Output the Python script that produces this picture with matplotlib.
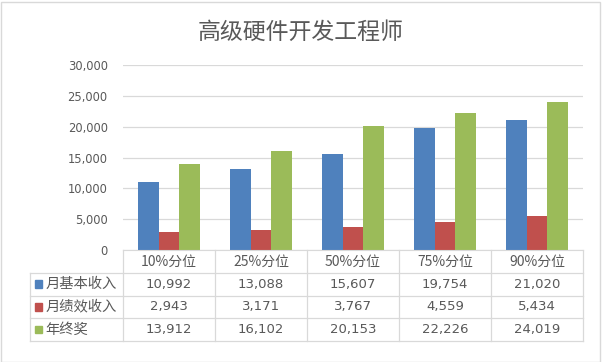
import matplotlib.pyplot as plt
import numpy as np
from matplotlib.patches import Rectangle

plt.rcParams['font.family'] = ['Noto Sans CJK SC', 'DejaVu Sans']

# Data
categories = ['10%分位', '25%分位', '50%分位', '75%分位', '90%分位']
series_names = ['月基本收入', '月绩效收入', '年终奖']
base_pay = [10992, 13088, 15607, 19754, 21020]
perf_pay = [2943, 3171, 3767, 4559, 5434]
bonus = [13912, 16102, 20153, 22226, 24019]
yticks = [0, 5000, 10000, 15000, 20000, 25000, 30000]

colors = ['#4F81BD', '#C0504D', '#9BBB59']
text_c = '#595959'
grid_c = '#D9D9D9'

W, H = 602, 362
fig = plt.figure(figsize=(W / 100, H / 100), dpi=100)

# pixel helpers
def fx(px):
    return px / W

def fy(py):
    return 1 - py / H

left, right, top, bottom = 123, 583, 65, 250
ax = fig.add_axes([fx(left), fy(bottom), fx(right - left), fy(top) - fy(bottom)])

x = np.arange(len(categories))
bw = 0.223
all_series = [base_pay, perf_pay, bonus]
for i, vals in enumerate(all_series):
    ax.bar(x + (i - 1) * bw, vals, bw, color=colors[i], zorder=2)

ax.set_xlim(-0.5, len(categories) - 0.5)
ax.set_ylim(0, 30000)
ax.set_yticks(yticks)
ax.set_yticklabels(['{:,}'.format(v) for v in yticks], fontsize=8.3, color=text_c,
                   family='DejaVu Sans')
ax.set_xticks([])
ax.tick_params(axis='y', length=0, pad=11)
ax.grid(axis='y', color=grid_c, linewidth=0.9, zorder=0)
for s in ['left', 'right', 'top']:
    ax.spines[s].set_visible(False)
ax.spines['bottom'].set_color(grid_c)

# Title
fig.text(fx(301), fy(32), '高级硬件开发工程师', ha='center', va='center',
         fontsize=16.5, color=text_c, fontweight='light')

# Data table
tleft, tbottom = 30, 341
tax = fig.add_axes([fx(tleft), fy(tbottom), fx(right - tleft), fy(bottom) - fy(tbottom)])
col_w = (right - left) / len(categories)
xmin = -0.5 - (left - tleft) / col_w
tax.set_xlim(xmin, len(categories) - 0.5)
tax.set_ylim(4, 0)
tax.axis('off')

lw = 0.9
# horizontal lines
for r in [1, 2, 3, 4]:
    tax.plot([xmin, len(categories) - 0.5], [r, r], color=grid_c, lw=lw, clip_on=False)
# vertical lines
for c in range(len(categories) + 1):
    tax.plot([c - 0.5, c - 0.5], [0, 4], color=grid_c, lw=lw, clip_on=False)
tax.plot([xmin, xmin], [1, 4], color=grid_c, lw=lw, clip_on=False)

for j, cat in enumerate(categories):
    tax.text(j, 0.5, cat, ha='center', va='center', fontsize=10, color=text_c)

for i, (name, vals) in enumerate(zip(series_names, all_series)):
    yrow = i + 1.5
    tax.add_patch(Rectangle((xmin + 0.055, yrow - 0.17), 0.075, 0.34,
                            color=colors[i], clip_on=False))
    tax.text(xmin + 0.17, yrow, name, ha='left', va='center', fontsize=10.3, color=text_c)
    for j, v in enumerate(vals):
        tax.text(j, yrow, '{:,}'.format(v), ha='center', va='center', fontsize=9.5,
                 color=text_c, family='DejaVu Sans')

# outer border
fig.patches.append(Rectangle((0.5 / W, 0.5 / H), 1 - 2.5 / W, 1 - 2.5 / H,
                             transform=fig.transFigure, fill=False,
                             edgecolor=grid_c, lw=1))

fig.savefig('out.png', dpi=100)
